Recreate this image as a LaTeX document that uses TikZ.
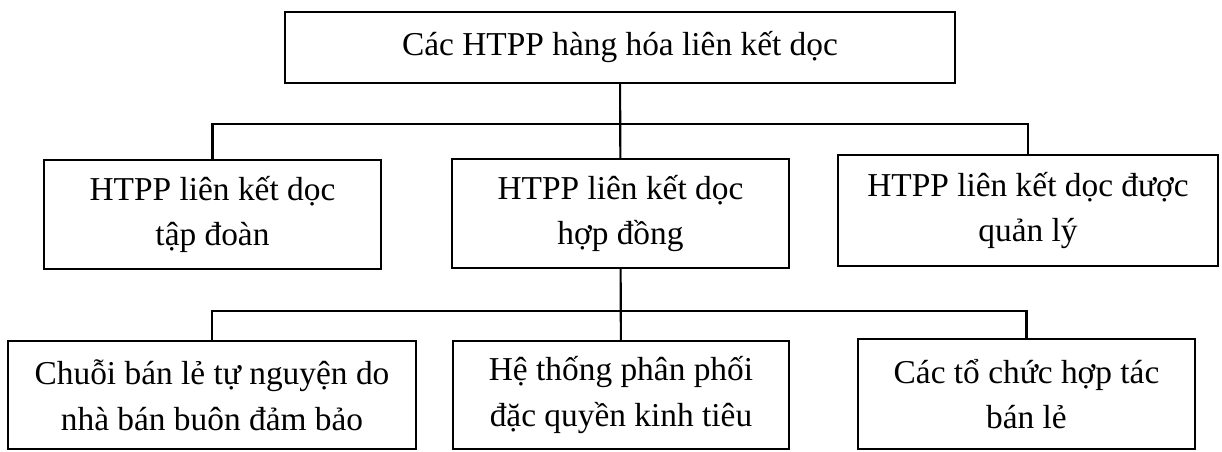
\documentclass[tikz,border=0pt]{standalone}
\usepackage{fontspec}
\setmainfont{Liberation Serif}
\usepackage{tikz}
\usetikzlibrary{positioning, calc}

\begin{document}
\begin{tikzpicture}[
    box/.style={rectangle, draw, line width=1.2pt, fill=white, align=center, inner sep=0pt, font=\fontsize{19}{26}\selectfont},
    link/.style={line width=1.2pt, black},
]
    \useasboundingbox (0, 0) rectangle (24.44, -9.02);

    % Row 1: root box
    \node[box, minimum width=13.4cm, minimum height=1.42cm] (root) at (12.4, -0.95) {Các HTPP hàng hóa liên kết dọc};

    % Row 2: three kinds of vertical systems
    \node[box, minimum width=6.74cm, minimum height=2.18cm] (corp) at (4.25, -4.29) {HTPP liên kết dọc\\tập đoàn};
    \node[box, minimum width=6.74cm, minimum height=2.18cm] (contr) at (12.41, -4.27) {HTPP liên kết dọc\\hợp đồng};
    \node[box, minimum width=7.6cm, minimum height=2.22cm] (admin) at (20.56, -4.21) {HTPP liên kết dọc được\\quản lý};

    % Row 3: kinds of contractual systems
    \node[box, minimum width=8.16cm, minimum height=2.16cm] (chain) at (4.24, -7.9) {Chuỗi bán lẻ tự nguyện do\\nhà bán buôn đảm bảo};
    \node[box, minimum width=6.72cm, minimum height=2.16cm] (franch) at (12.42, -7.9) {Hệ thống phân phối\\đặc quyền kinh tiêu};
    \node[box, minimum width=6.74cm, minimum height=2.2cm] (coop) at (20.53, -7.88) {Các tổ chức hợp tác\\bán lẻ};

    % Bus lines
    \coordinate (bus1) at (12.4, -2.48);
    \coordinate (bus2) at (12.42, -6.22);

    % Lines from root to row 2
    \draw[link] (root) -- (contr);
    \draw[link] (corp.north) |- (bus1) -| (admin.north);

    % Lines from contract box to row 3
    \draw[link] (contr) -- (franch);
    \draw[link] (chain.north) |- (bus2) -| (coop.north);
\end{tikzpicture}
\end{document}
